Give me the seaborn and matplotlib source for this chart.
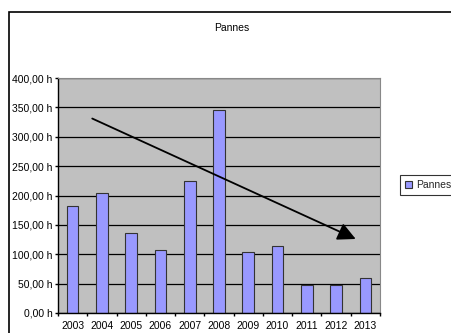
import matplotlib
matplotlib.use("Agg")
import matplotlib.pyplot as plt
import matplotlib.patches as mpatches
from matplotlib.ticker import FixedLocator, FuncFormatter
import seaborn as sns
import pandas as pd

# Annual breakdown hours
years = ["2003", "2004", "2005", "2006", "2007", "2008",
         "2009", "2010", "2011", "2012", "2013"]
hours = [182, 205, 136, 108, 224, 346, 104, 114, 48, 48, 60]

# Hand-drawn trend arrow (category index, hours)
trend_start = (0.67, 331)
trend_end = (9.67, 126)

sns.set_theme(style="white")
plt.rcParams["font.family"] = ["Liberation Sans", "DejaVu Sans"]

df = pd.DataFrame({"Année": years, "Pannes": hours})

fig = plt.figure(figsize=(4.51, 3.33), dpi=100)
fig.patch.set_facecolor("white")
ax = fig.add_axes([58 / 451, 1 - 313 / 333, 322 / 451, 235 / 333])

sns.barplot(data=df, x="Année", y="Pannes", ax=ax, color="#9999FF",
            width=0.4, saturation=1, edgecolor="#333333", linewidth=0.8,
            label="Pannes", zorder=3)
handles, labels = ax.get_legend_handles_labels()
if ax.get_legend() is not None:
    ax.get_legend().remove()

ax.set_facecolor("#C0C0C0")
ax.set_xlim(-0.5, len(years) - 0.5)
ax.set_ylim(0, 400)
ax.yaxis.set_major_locator(FixedLocator(range(0, 401, 50)))
ax.yaxis.set_major_formatter(FuncFormatter(lambda v, _: f"{v:.2f}".replace(".", ",") + " h"))
ax.grid(axis="y", color="black", linewidth=0.9, zorder=1)
ax.set_axisbelow(True)

# Category boundary ticks, labels centred on each bar
ax.set_xticks([i - 0.5 for i in range(len(years) + 1)])
ax.set_xticklabels([])
ax.set_xticks(range(len(years)), minor=True)
ax.set_xticklabels(years, minor=True)
ax.tick_params(axis="x", which="major", direction="out", length=2.5, width=1,
               color="black", bottom=True)
ax.tick_params(axis="x", which="minor", length=0, pad=6, labelsize=7.5, colors="black")
ax.tick_params(axis="y", direction="out", length=2.5, width=1, color="black",
               left=True, pad=1.5, labelsize=7.5, labelcolor="black")

ax.set_xlabel("")
ax.set_ylabel("")
for side in ("top", "right"):
    ax.spines[side].set_color("#888888")
    ax.spines[side].set_linewidth(0.8)
for side in ("left", "bottom"):
    ax.spines[side].set_color("black")
    ax.spines[side].set_linewidth(1)
ax.spines["bottom"].set_zorder(4)

ax.annotate("", xy=trend_end, xytext=trend_start,
            arrowprops=dict(arrowstyle="-|>,head_length=0.9,head_width=0.45",
                            color="black", lw=1.3, shrinkA=0, shrinkB=0),
            zorder=5)

fig.text(232 / 451, 1 - 28 / 333, "Pannes", ha="center", va="center",
         fontsize=7.5, color="black")

leg = fig.legend(handles[:1], labels[:1], loc="center left",
                 bbox_to_anchor=(400 / 451, 1 - 185 / 333), frameon=True,
                 fancybox=False, fontsize=7.5, handlelength=0.7, handleheight=0.7,
                 handletextpad=0.4, borderpad=0.45, borderaxespad=0)
leg.get_frame().set_edgecolor("black")
leg.get_frame().set_linewidth(0.8)

# Outer chart frame, running off the right and bottom edges
fig.add_artist(mpatches.Rectangle((8.5 / 451, -0.2), 1.2, 1.2 - 12 / 333,
                                  transform=fig.transFigure, fill=False,
                                  edgecolor="black", linewidth=1.2))

fig.savefig("out.png", dpi=100)
